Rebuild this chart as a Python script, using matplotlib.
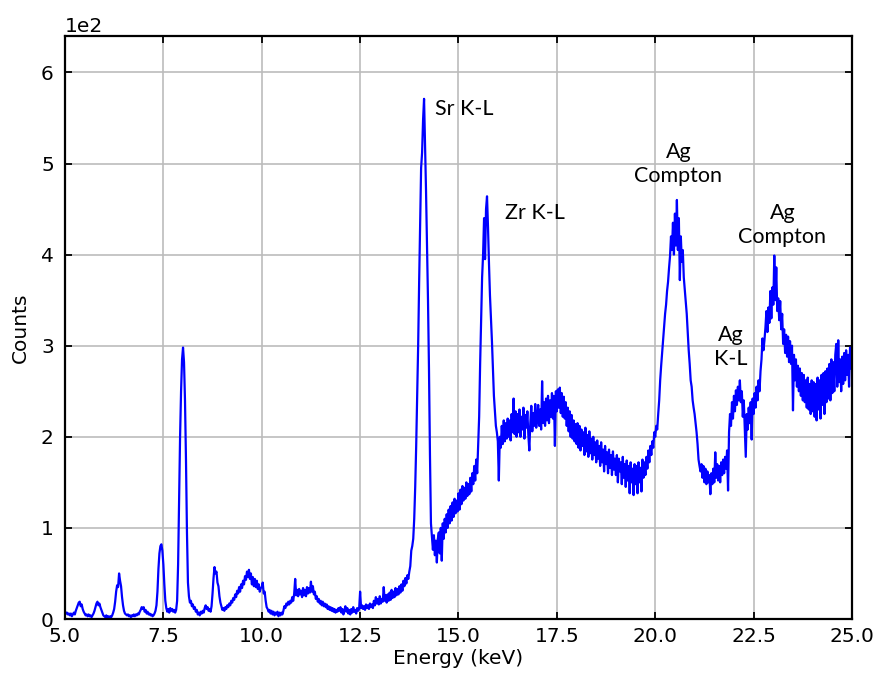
import numpy as np
import matplotlib
matplotlib.use('Agg')
import matplotlib.pyplot as plt

# counts, one value every 0.025 keV
counts_5_10 = [
    8, 6, 7, 5, 6, 4, 6, 3, 5, 7, 5, 9, 12, 15, 18, 19, 14, 16, 11, 8,
    6, 4, 5, 3, 5, 3, 4, 2, 4, 6, 9, 13, 17, 19, 15, 17, 13, 10, 7, 4,
    3, 2, 4, 2, 3, 1, 3, 2, 4, 7, 11, 19, 30, 37, 35, 50, 42, 36, 24, 15,
    9, 6, 5, 4, 5, 3, 4, 2, 4, 3, 5, 3, 5, 4, 6, 5, 8, 10, 13, 11,
    13, 8, 10, 6, 8, 5, 6, 4, 5, 3, 4, 6, 9, 15, 30, 55, 72, 80, 82, 75,
    60, 38, 20, 12, 8, 11, 7, 12, 9, 11, 8, 10, 7, 10, 20, 60, 130, 200, 250, 285,
    298, 282, 240, 175, 95, 40, 25, 18, 20, 14, 16, 11, 13, 8, 10, 5, 7, 4, 8, 6,
    9, 7, 12, 15, 11, 13, 9, 11, 8, 14, 28, 45, 57, 50, 52, 40, 36, 25, 18, 14,
    10, 12, 9, 13, 11, 15, 13, 17, 15, 20, 18, 23, 21, 27, 24, 31, 28, 35, 30, 38,
    34, 42, 38, 47, 43, 52, 46, 54, 44, 50, 38, 46, 36, 44, 35, 42, 33, 38, 30, 34,
]
counts_10_15 = [
    35, 40, 28, 30, 20, 13, 11, 8, 10, 6, 9, 5, 8, 4, 7, 5, 8, 3, 7, 4,
    7, 5, 9, 14, 12, 17, 15, 19, 16, 20, 18, 24, 20, 28, 44, 26, 32, 25, 33, 27,
    31, 24, 34, 26, 32, 25, 35, 28, 34, 29, 41, 30, 36, 27, 30, 22, 25, 19, 22, 17,
    20, 15, 19, 14, 17, 13, 16, 11, 14, 10, 13, 9, 12, 8, 11, 7, 10, 8, 12, 9,
    13, 7, 11, 5, 9, 14, 8, 12, 6, 10, 5, 11, 7, 13, 8, 10, 6, 12, 9, 11,
    30, 12, 15, 11, 14, 10, 16, 12, 15, 11, 17, 13, 16, 12, 20, 15, 24, 17, 22, 16,
    25, 17, 22, 19, 35, 20, 26, 18, 27, 20, 29, 21, 32, 23, 30, 24, 34, 26, 33, 27,
    36, 29, 38, 31, 42, 36, 45, 39, 48, 44, 52, 58, 75, 80, 88, 110, 145, 190, 245, 300,
    370, 430, 495, 512, 548, 571, 520, 470, 410, 350, 275, 180, 105, 90, 76, 92, 70, 86, 62, 88,
    95, 72, 100, 64, 105, 88, 110, 95, 115, 100, 120, 105, 124, 108, 128, 112, 132, 116, 130, 118,
]
counts_15_20 = [
    138, 120, 142, 126, 146, 130, 144, 132, 150, 135, 148, 137, 155, 140, 160, 148, 168, 152, 175, 160,
    190, 222, 280, 330, 375, 400, 440, 395, 450, 464, 430, 390, 355, 330, 305, 275, 245, 228, 212, 205,
    195, 152, 200, 188, 212, 192, 218, 195, 215, 198, 220, 200, 218, 196, 225, 205, 242, 203, 228, 200,
    225, 205, 230, 200, 222, 208, 232, 198, 224, 210, 228, 202, 185, 215, 234, 206, 226, 212, 236, 210,
    220, 235, 212, 230, 208, 261, 215, 238, 212, 242, 218, 245, 215, 240, 222, 248, 220, 245, 190, 250,
    228, 252, 232, 254, 226, 248, 222, 244, 220, 238, 212, 232, 206, 228, 200, 224, 198, 218, 195, 214,
    192, 215, 188, 212, 185, 208, 190, 205, 180, 210, 184, 202, 178, 206, 182, 198, 175, 200, 180, 194,
    172, 196, 176, 190, 168, 194, 172, 186, 162, 190, 170, 183, 160, 186, 166, 180, 158, 184, 164, 176,
    158, 180, 150, 176, 162, 172, 148, 178, 155, 170, 145, 174, 152, 168, 138, 172, 150, 165, 136, 170,
    148, 168, 138, 172, 150, 166, 140, 175, 155, 172, 158, 178, 165, 185, 172, 190, 180, 195, 188, 205,
]
counts_20_25 = [
    200, 212, 208, 225, 240, 262, 278, 292, 305, 320, 335, 345, 360, 370, 385, 398, 420, 405, 435, 400,
    445, 410, 460, 405, 440, 372, 420, 392, 405, 375, 362, 348, 335, 315, 295, 280, 262, 255, 240, 232,
    225, 215, 205, 192, 175, 168, 162, 170, 155, 168, 150, 165, 148, 162, 150, 158, 137, 160, 148, 165,
    150, 183, 155, 170, 152, 168, 150, 172, 158, 175, 160, 178, 165, 185, 141, 205, 225, 212, 238, 220,
    245, 228, 251, 235, 255, 240, 262, 238, 250, 222, 240, 210, 178, 225, 208, 232, 215, 238, 197, 242,
    225, 248, 232, 255, 240, 262, 250, 272, 285, 308, 295, 306, 320, 338, 315, 342, 325, 360, 330, 364,
    345, 399, 350, 386, 338, 352, 328, 349, 318, 335, 302, 318, 292, 312, 288, 310, 282, 305, 280, 300,
    229, 290, 262, 285, 255, 278, 250, 275, 245, 270, 240, 268, 238, 262, 232, 265, 230, 258, 225, 262,
    228, 260, 222, 258, 218, 265, 230, 262, 220, 268, 235, 270, 225, 272, 238, 275, 242, 280, 240, 285,
    248, 282, 250, 290, 302, 255, 306, 260, 285, 250, 288, 258, 292, 262, 295, 268, 290, 255, 298, 275,
    285,
]

counts = np.array(counts_5_10 + counts_10_15 + counts_15_20 + counts_20_25, dtype=float)
energy = np.linspace(5.0, 25.0, len(counts))

# peak labels: (text, energy, counts, alignment)
labels = [
    ('Sr K-L', 14.40, 560, 'left'),
    ('Zr K-L', 16.18, 446, 'left'),
    ('Ag\nCompton', 20.59, 500, 'center'),
    ('Ag\nK-L', 21.93, 299, 'center'),
    ('Ag\nCompton', 23.23, 432, 'center'),
]

fig = plt.figure(figsize=(8.78, 6.8), dpi=100)
ax = fig.add_axes([0.074, 0.0897, 0.8964, 0.8574])

ax.plot(energy, counts, color='#0000ff', lw=1.6)

for txt, x, y, ha in labels:
    ax.text(x, y, txt, ha=ha, va='center', fontsize=15.5, family='Lato',
            linespacing=1.25, color='black')

ax.set_xlim(5, 25)
ax.set_ylim(0, 640)
ax.set_xticks(np.arange(5, 25.1, 2.5))
ax.set_yticks(np.arange(0, 601, 100))
ax.ticklabel_format(axis='y', style='sci', scilimits=(2, 2))
ax.yaxis.get_offset_text().set_fontsize(14.5)

ax.grid(True, color='#bcbcbc', lw=1.2)
ax.tick_params(direction='in', top=True, right=True, length=5, width=1.3,
               labelsize=14.5)
ax.tick_params(axis='y', pad=8)
ax.tick_params(axis='x', pad=6)
for s in ax.spines.values():
    s.set_linewidth(1.6)

ax.set_xlabel('Energy (keV)', fontsize=14.5, labelpad=2)
ax.set_ylabel('Counts', fontsize=14.5, labelpad=8)

plt.savefig('out.png', dpi=100)
